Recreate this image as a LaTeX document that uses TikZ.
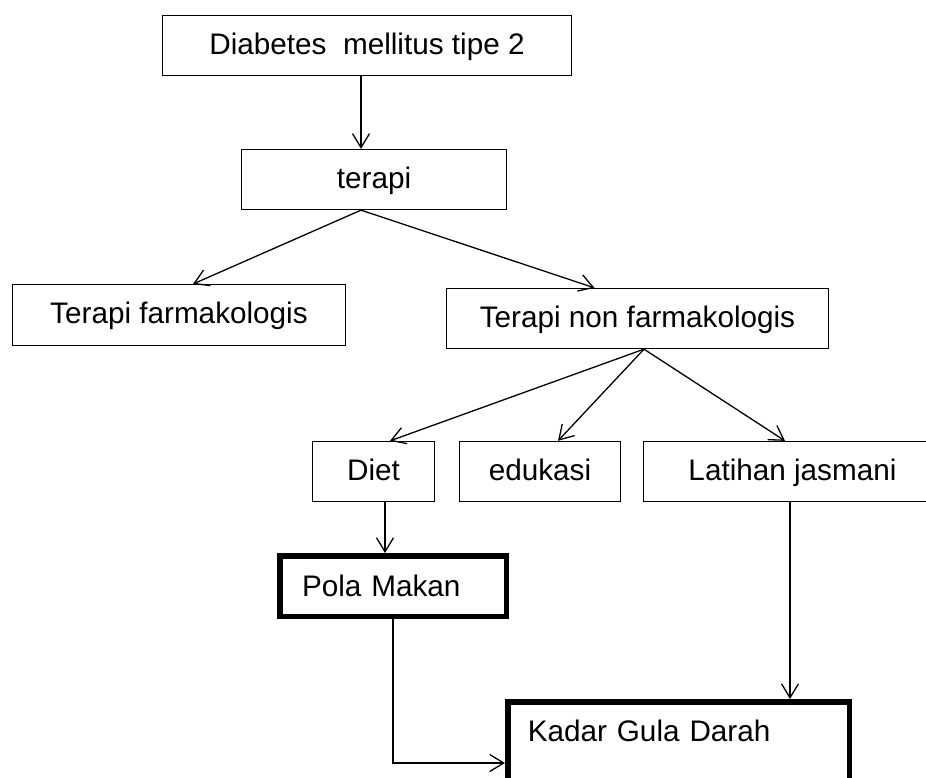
\documentclass[tikz,border=0pt]{standalone}
\usepackage{fontspec}
\setmainfont{Liberation Sans}
\usetikzlibrary{arrows.meta}
\tikzset{
  box/.style={draw, line width=1.3pt, inner sep=0pt, minimum height=60pt,
    text height=22pt, text depth=5pt,
    font=\fontsize{29.7}{35.6}\selectfont},
  thickbox/.style={box, line width=5.5pt, align=left},
  arr/.style={line width=1.3pt, -{Straight Barb[length=14pt,width=17pt]}}
}
\begin{document}
\begin{tikzpicture}[x=1pt,y=-1pt]
  \clip (0,0) rectangle (926,777);

  % Boxes of the first levels
  \node[box, minimum width=408.7pt] (dm) at (367,45.5) {Diabetes~ mellitus tipe 2};
  \node[box, minimum width=264.7pt] (terapi) at (374,179.5) {terapi};
  \node[box, minimum width=332.7pt, minimum height=60.7pt] (farm) at (179,315) {Terapi farmakologis};
  \node[box, minimum width=381.7pt] (nonfarm) at (637.5,318.5) {Terapi non farmakologis};

  % Boxes of the non farmakologis branch
  \node[box, minimum width=121.7pt] (diet) at (373.5,471.5) {Diet};
  \node[box, minimum width=160.7pt] (edukasi) at (540,471.5) {edukasi};
  \node[box, minimum width=297.7pt] (latihan) at (792.5,471.5) {Latihan jasmani};

  % Thick boxes
  \node[thickbox, text width=182pt, inner xsep=22.25pt, minimum height=60.5pt,
    text height=23pt, text depth=3pt] (pola) at (393,586) {Pola Makan};
  \node[thickbox, anchor=north west, text width=301.5pt, inner xsep=20pt, inner ysep=19pt,
    text height=21pt, text depth=40pt] (kadar) at (505,699) {Kadar Gula Darah};

  % Fork points
  \coordinate (t0) at ([xshift=-13pt]terapi.south);
  \coordinate (n0) at ([xshift=6.5pt]nonfarm.south);
  \coordinate (k0) at (393,763);

  % Connectors
  \draw[arr] (dm.south -| t0) -- (terapi.north -| t0);
  \draw[arr] (t0) -- ([xshift=14pt]farm.north);
  \draw[arr] (t0) -- ([xshift=-43pt]nonfarm.north);
  \draw[arr] (n0) -- ([xshift=16.5pt]diet.north);
  \draw[arr] (n0) -- ([xshift=18pt]edukasi.north);
  \draw[arr] (n0) -- ([xshift=-7.5pt]latihan.north);
  \draw[arr] ([xshift=11.5pt]diet.south) -- ([xshift=11.5pt]diet.south |- pola.north);
  \draw[arr] ([xshift=-2.5pt]latihan.south) -- ([xshift=-2.5pt]latihan.south |- kadar.north);
  \draw[arr] (pola.south) -- (k0) -- (k0 -| kadar.west);
\end{tikzpicture}
\end{document}
